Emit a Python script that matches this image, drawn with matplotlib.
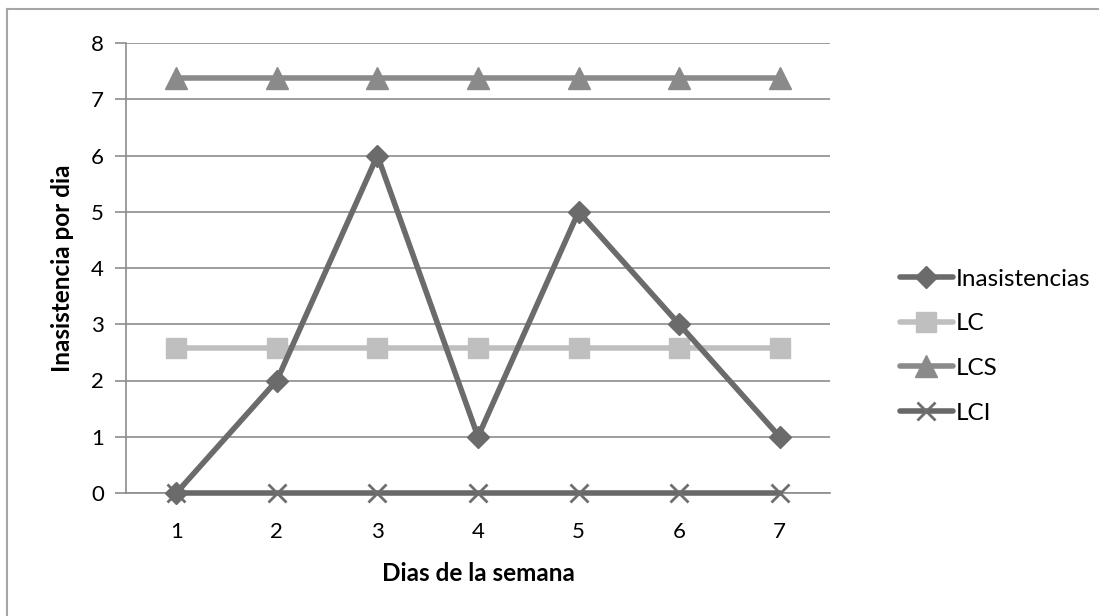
import matplotlib.pyplot as plt
from matplotlib.lines import Line2D

plt.rcParams['font.family'] = ['Lato', 'DejaVu Sans']

dias = [1, 2, 3, 4, 5, 6, 7]
inasistencias = [0, 2, 6, 1, 5, 3, 1]
lc = [2.57, 2.57, 2.57, 2.57, 2.57, 2.57, 2.57]
lcs = [7.38, 7.38, 7.38, 7.38, 7.38, 7.38, 7.38]
lci = [0, 0, 0, 0, 0, 0, 0]

W, H = 1099, 616
fig = plt.figure(figsize=(W / 100, H / 100), dpi=100)
# area de trazado en pixeles: x 126..830, y 43..493
ax = fig.add_axes([126 / W, 1 - 493 / H, (830 - 126) / W, (493 - 43) / H])

# borde exterior (solo arriba e izquierda)
fig.add_artist(Line2D([7 / W, 7 / W], [0, 1 - 9 / H], color='#a6a6a6', lw=1.5))
fig.add_artist(Line2D([7 / W, 1], [1 - 9 / H, 1 - 9 / H], color='#a6a6a6', lw=1.5))

ax.set_xlim(0.5, 7.5)
ax.set_ylim(0, 8)
ax.set_yticks(range(0, 9))
ax.set_xticks(dias)
ax.yaxis.grid(True, color='#8c8c8c', lw=1.2)
ax.set_axisbelow(True)
for s in ['top', 'right']:
    ax.spines[s].set_visible(False)
for s in ['left', 'bottom']:
    ax.spines[s].set_color('#8c8c8c')
    ax.spines[s].set_linewidth(1.2)
ax.tick_params(axis='y', length=8, color='#8c8c8c', width=1.2, labelsize=16, pad=8)
ax.tick_params(axis='x', length=0, labelsize=16, pad=21)

ax.plot(dias, lci, color='#686868', lw=4, marker='x', ms=13, mew=2, mec='#6e6e6e',
        label='LCI', zorder=6, clip_on=False, solid_capstyle='round')
ax.plot(dias, lc, color='#bfbfbf', lw=4, marker='s', ms=14, mfc='#bfbfbf', mec='#bfbfbf',
        label='LC', zorder=4, solid_capstyle='round')
ax.plot(dias, lcs, color='#8a8a8a', lw=4, marker='^', ms=16, mfc='#8a8a8a', mec='#8a8a8a',
        label='LCS', zorder=4, solid_capstyle='round')
ax.plot(dias, inasistencias, color='#6b6b6b', lw=4, marker='D', ms=11, mfc='#6b6b6b',
        mec='#6b6b6b', label='Inasistencias', zorder=7, clip_on=False,
        solid_capstyle='round')

ax.set_xlabel('Dias de la semana', fontsize=17.5, fontweight='bold', labelpad=14)
ax.set_ylabel('Inasistencia por dia', fontsize=17.5, fontweight='bold', labelpad=12)

handles, labels = ax.get_legend_handles_labels()
orden = [3, 1, 2, 0]
leg = fig.legend([handles[i] for i in orden], [labels[i] for i in orden],
                 loc='upper left', bbox_to_anchor=(890 / W, 1 - 259 / H),
                 frameon=False, fontsize=17.5, handlelength=2.2, handletextpad=0.1,
                 labelspacing=0.97, borderaxespad=0)

fig.savefig('out.png', dpi=100)
